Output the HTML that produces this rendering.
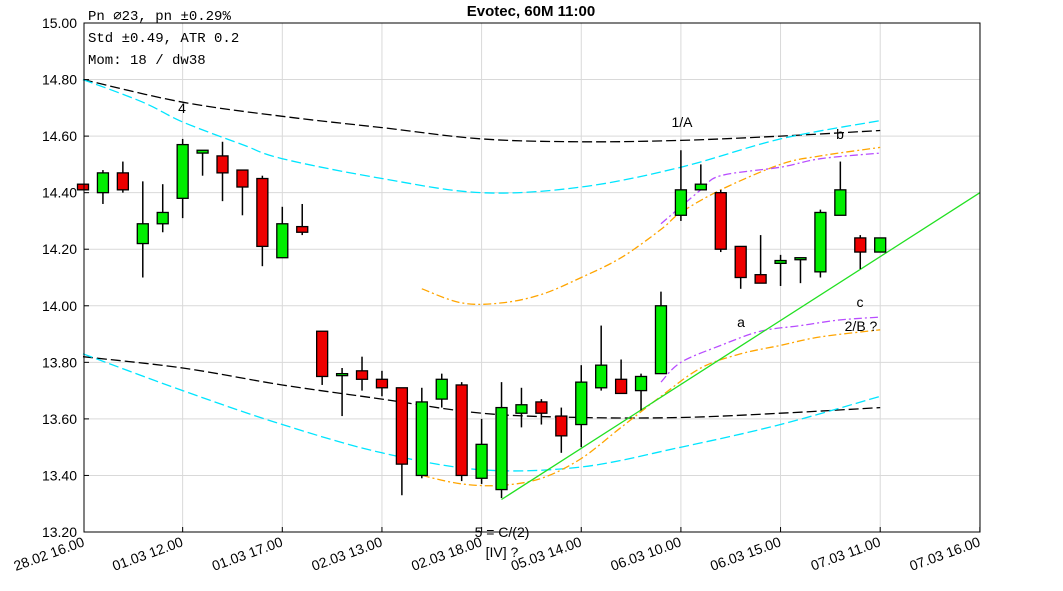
<!DOCTYPE html>
<html><head><meta charset="utf-8"><style>
body{margin:0;background:#fff;}
svg{display:block;font-family:"Liberation Sans",sans-serif;}
</style></head><body>
<svg id="c" width="1063" height="591" viewBox="0 0 1063 591" xmlns="http://www.w3.org/2000/svg">
<text x="531" y="16" text-anchor="middle" font-size="15" font-weight="bold">Evotec, 60M 11:00</text>
<g id="grid"></g><g id="lines"></g><g id="candles"></g><g id="axes"></g>
<g font-family="Liberation Mono, monospace" font-size="14">
<text x="88" y="20">Pn  ∅23, pn ±0.29%</text>
<text x="88" y="42">Std ±0.49, ATR 0.2</text>
<text x="88" y="64">Mom: 18 / dw38</text>
</g>
<g font-size="14" text-anchor="middle">
<text x="182" y="113">4</text><text x="682" y="127">1/A</text><text x="840" y="139">b</text>
<text x="741" y="327">a</text><text x="860" y="307">c</text><text x="861" y="331">2/B ?</text>
<text x="502" y="537">5 = C/(2)</text><text x="502" y="557">[IV] ?</text>
</g>
</svg>
<script>
const opens=[14.43,14.40,14.47,14.22,14.29,14.38,14.54,14.53,14.48,14.45,14.17,14.28,13.91,13.76,13.77,13.74,13.71,13.40,13.67,13.72,13.39,13.35,13.62,13.66,13.61,13.58,13.71,13.74,13.70,13.76,14.32,14.41,14.40,14.21,14.11,14.15,14.17,14.12,14.32,14.24,14.19];
const closes=[14.41,14.47,14.41,14.29,14.33,14.57,14.55,14.47,14.42,14.21,14.29,14.26,13.75,13.76,13.74,13.71,13.44,13.66,13.74,13.40,13.51,13.64,13.65,13.62,13.54,13.73,13.79,13.69,13.75,14.00,14.41,14.43,14.20,14.10,14.08,14.16,14.17,14.33,14.41,14.19,14.24];
const highs=[14.43,14.48,14.51,14.44,14.43,14.59,14.55,14.58,14.48,14.46,14.35,14.36,13.91,13.78,13.82,13.77,13.71,13.71,13.76,13.73,13.60,13.73,13.71,13.67,13.64,13.79,13.93,13.81,13.76,14.05,14.55,14.50,14.41,14.21,14.25,14.18,14.17,14.34,14.51,14.25,14.24];
const lows=[14.41,14.36,14.40,14.10,14.26,14.31,14.46,14.37,14.32,14.14,14.17,14.25,13.72,13.61,13.70,13.68,13.33,13.39,13.64,13.38,13.37,13.32,13.57,13.58,13.48,13.50,13.70,13.69,13.63,13.76,14.30,14.41,14.19,14.06,14.08,14.07,14.08,14.10,14.32,14.13,14.19];
const yTicks=[13.2,13.4,13.6,13.8,14.0,14.2,14.4,14.6,14.8,15.0];
const xTickLabels=["28.02 16.00","01.03 12.00","01.03 17.00","02.03 13.00","02.03 18.00","05.03 14.00","06.03 10.00","06.03 15.00","07.03 11.00","07.03 16.00"];
const upperBlackIdx=[0,5,10,15,20,25,30,35,40];
const upperBlack=[14.80,14.72,14.67,14.63,14.59,14.58,14.585,14.60,14.62];
const upperCyanIdx=[0,3,5,8,10,15,20,25,30,35,40];
const upperCyan=[14.80,14.72,14.65,14.57,14.52,14.45,14.40,14.42,14.49,14.59,14.655];
const lowerBlackIdx=[0,5,10,15,20,25,30,35,40];
const lowerBlack=[13.82,13.78,13.72,13.67,13.62,13.605,13.605,13.62,13.64];
const lowerCyanIdx=[0,5,10,15,20,25,30,35,40];
const lowerCyan=[13.83,13.70,13.58,13.48,13.42,13.43,13.50,13.58,13.68];
const lowerOrangeIdx=[17,19,21,23,25,27,29,31,33,35,37,40];
const lowerOrange=[13.40,13.37,13.365,13.39,13.46,13.57,13.68,13.78,13.83,13.86,13.89,13.915];
const lowerPurpleIdx=[29,30,32,34,36,38,40];
const lowerPurple=[13.73,13.80,13.86,13.91,13.93,13.95,13.96];
const upperOrangeIdx=[17,19,21,23,25,27,29,30,32,35,37,40];
const upperOrange=[14.06,14.01,14.01,14.04,14.10,14.17,14.27,14.33,14.41,14.50,14.53,14.56];
const upperPurpleIdx=[29,31,32,35,37,40];
const upperPurple=[14.29,14.41,14.46,14.49,14.52,14.54];
const trendIdx=[21,45];
const trend=[13.315,14.40];

const L=84,R=980,T=23,B=532;
const X=i=>83+19.93*i;
const Y=p=>B-(p-13.2)/1.8*(B-T);
const NS="http://www.w3.org/2000/svg";
function mk(tag,parent,attrs){const e=document.createElementNS(NS,tag);for(const k in attrs)e.setAttribute(k,attrs[k]);parent.appendChild(e);return e;}
const grid=document.getElementById('grid'),axes=document.getElementById('axes'),lines=document.getElementById('lines'),cg=document.getElementById('candles');
yTicks.forEach(v=>{const y=Y(v);
 const g=mk('line',grid,{x1:L,x2:R,y1:y,y2:y,stroke:'#d9d9d9','stroke-width':1});
 
 const t=mk('text',axes,{x:77,y:y+5,'text-anchor':'end','font-size':14});t.textContent=v.toFixed(2);
 
 mk('line',axes,{x1:L,x2:L+5,y1:y,y2:y,stroke:'#000'});});
xTickLabels.forEach((s,k)=>{const x=X(k*5)+(k==0?1:0);
 const g=mk('line',grid,{x1:x,x2:x,y1:T,y2:B,stroke:'#d9d9d9','stroke-width':1});
 
 const t=mk('text',axes,{x:x,y:B+14,'text-anchor':'end','font-size':14,transform:`rotate(-20 ${x} ${B+10})`});t.textContent=s;
 
 mk('line',axes,{x1:x,x2:x,y1:B,y2:B-5,stroke:'#000'});});
const fr=mk('rect',axes,{x:L,y:T,width:R-L,height:B-T,fill:'none',stroke:'#000','stroke-width':1});

function series(idx,vals,color,dash,name){
 const P=idx.map((i,k)=>[X(i),Y(vals[k])]);
 let d='M'+P[0][0].toFixed(1)+' '+P[0][1].toFixed(1);
 for(let k=0;k<P.length-1;k++){
  const p0=P[Math.max(k-1,0)],p1=P[k],p2=P[k+1],p3=P[Math.min(k+2,P.length-1)];
  const c1=[p1[0]+(p2[0]-p0[0])/6,p1[1]+(p2[1]-p0[1])/6],c2=[p2[0]-(p3[0]-p1[0])/6,p2[1]-(p3[1]-p1[1])/6];
  d+=` C${c1[0].toFixed(1)} ${c1[1].toFixed(1)} ${c2[0].toFixed(1)} ${c2[1].toFixed(1)} ${p2[0].toFixed(1)} ${p2[1].toFixed(1)}`;}
 const p=mk('path',lines,{d:d,fill:'none',stroke:color,'stroke-width':1.3,'stroke-dasharray':dash});
 }
series(upperBlackIdx,upperBlack,'#000','10 4','upper-black-band');
series(lowerBlackIdx,lowerBlack,'#000','10 4','lower-black-band');
series(upperCyanIdx,upperCyan,'#00e5ff','10 4','upper-cyan-band');
series(lowerCyanIdx,lowerCyan,'#00e5ff','10 4','lower-cyan-band');
series(upperOrangeIdx,upperOrange,'#ffa500','8 3 2 3','upper-orange-band');
series(lowerOrangeIdx,lowerOrange,'#ffa500','8 3 2 3','lower-orange-band');
series(upperPurpleIdx,upperPurple,'#b84dff','8 3 2 3','upper-purple-band');
series(lowerPurpleIdx,lowerPurple,'#b84dff','8 3 2 3','lower-purple-band');
series(trendIdx,trend,'#22e022','','trend-line');
opens.forEach((o,i)=>{const c=closes[i],x=X(i);
 const w=mk('line',cg,{x1:x,x2:x,y1:Y(highs[i]),y2:Y(lows[i]),stroke:'#000','stroke-width':1.5});
 
 const top=Y(Math.max(o,c)),bot=Y(Math.min(o,c));
 const r=mk('rect',cg,{x:x-5.5,y:top,width:11,height:Math.max(bot-top,2),fill:c>=o?'#00ee00':'#ee0000',stroke:'#000','stroke-width':1.3});
 });
</script>
</body></html>
